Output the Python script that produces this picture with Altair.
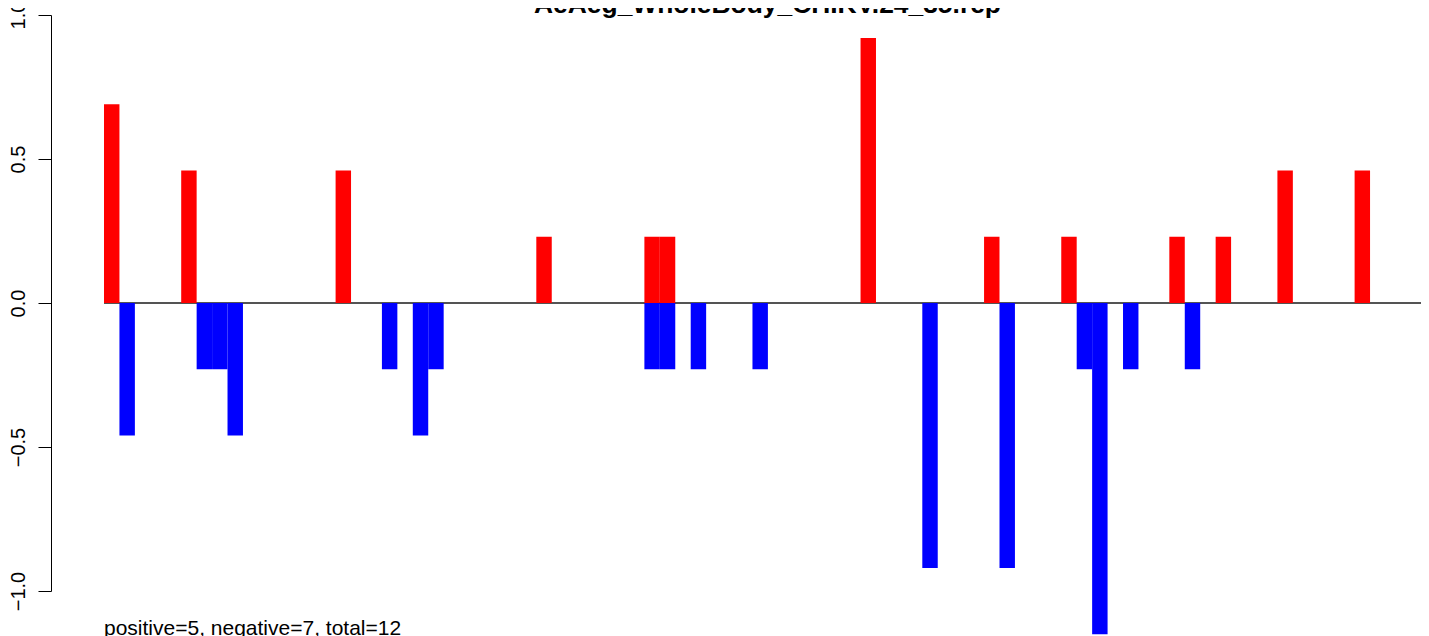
import altair as alt
import pandas as pd

# ---- data ----
title_text = "AeAeg_WholeBody_CHIKV.24_35.rep"
note_text = "positive=5, negative=7, total=12"

pos_slots = [0, 5, 15, 28, 35, 36, 49, 57, 62, 69, 72, 76, 81]
pos_values = [0.69, 0.46, 0.46, 0.23, 0.23, 0.23, 0.92, 0.23, 0.23, 0.23, 0.23, 0.46, 0.46]

neg_slots = [1, 6, 7, 8, 18, 20, 21, 35, 36, 38, 42, 53, 58, 63, 64, 66, 70]
neg_values = [-0.46, -0.23, -0.23, -0.46, -0.23, -0.46, -0.23, -0.23, -0.23, -0.23,
              -0.23, -0.92, -0.92, -0.23, -1.15, -0.23, -0.23]

n_slots = 86
y_ticks = [-1.0, -0.5, 0.0, 0.5, 1.0]

FONT = "Liberation Sans"

pos_df = pd.DataFrame({"slot": pos_slots, "value": pos_values})
pos_df["slot_end"] = pos_df["slot"] + 1
neg_df = pd.DataFrame({"slot": neg_slots, "value": neg_values})
neg_df["slot_end"] = neg_df["slot"] + 1
note_df = pd.DataFrame({"label": [note_text]})
title_df = pd.DataFrame({"label": [title_text]})

VIEW_W = 1370
VIEW_H = 576

x_scale = alt.Scale(domain=[-3.433, 85.30], nice=False, zero=False)
y_scale = alt.Scale(domain=[-1.0, 1.0], nice=False, zero=False)

y_axis = alt.Axis(
    values=y_ticks, format=".1f", title=None, grid=False,
    labelAngle=270, labelAlign="center", labelBaseline="alphabetic",
    labelFont=FONT, labelFontSize=20, labelColor="black", labelPadding=14,
    tickSize=13, tickColor="black", tickWidth=1,
    domainColor="black", domainWidth=1, labelFlush=False, labelOverlap=False,
)

zero_line = alt.Chart(pos_df).mark_rule(color="#555555", strokeWidth=1).encode(
    x=alt.datum(0, scale=x_scale, axis=None),
    x2=alt.datum(n_slots),
    y=alt.datum(0, scale=y_scale, axis=y_axis),
)

red = alt.Chart(pos_df).mark_rect(color="#FF0000").encode(
    x=alt.X("slot:Q", scale=x_scale, axis=None),
    x2="slot_end:Q",
    y=alt.Y("value:Q", scale=y_scale, axis=y_axis),
    y2=alt.datum(0),
)

blue = alt.Chart(neg_df).mark_rect(color="#0000FF").encode(
    x=alt.X("slot:Q", scale=x_scale, axis=None),
    x2="slot_end:Q",
    y=alt.Y("value:Q", scale=y_scale, axis=y_axis),
    y2=alt.datum(0),
)

note = alt.Chart(note_df).mark_text(
    font=FONT, fontSize=21, align="left", baseline="alphabetic", color="black"
).encode(
    x=alt.datum(0, scale=x_scale, axis=None),
    y=alt.value(620),
    text="label:N",
)

title = alt.Chart(title_df).mark_text(
    font=FONT, fontSize=26.4, fontWeight="bold", align="center",
    baseline="alphabetic", color="black"
).encode(
    x=alt.value(716.5),
    y=alt.value(-2),
    text="label:N",
)

chart = alt.layer(zero_line, red, blue, note, title).properties(
    width=VIEW_W,
    height=VIEW_H,
    autosize=alt.AutoSizeParams(type="none"),
    padding={"left": 43, "top": 7, "right": 0, "bottom": 45},
).configure_view(strokeWidth=0)

chart.save("out.html", embed_options={"renderer": "svg", "actions": False})
